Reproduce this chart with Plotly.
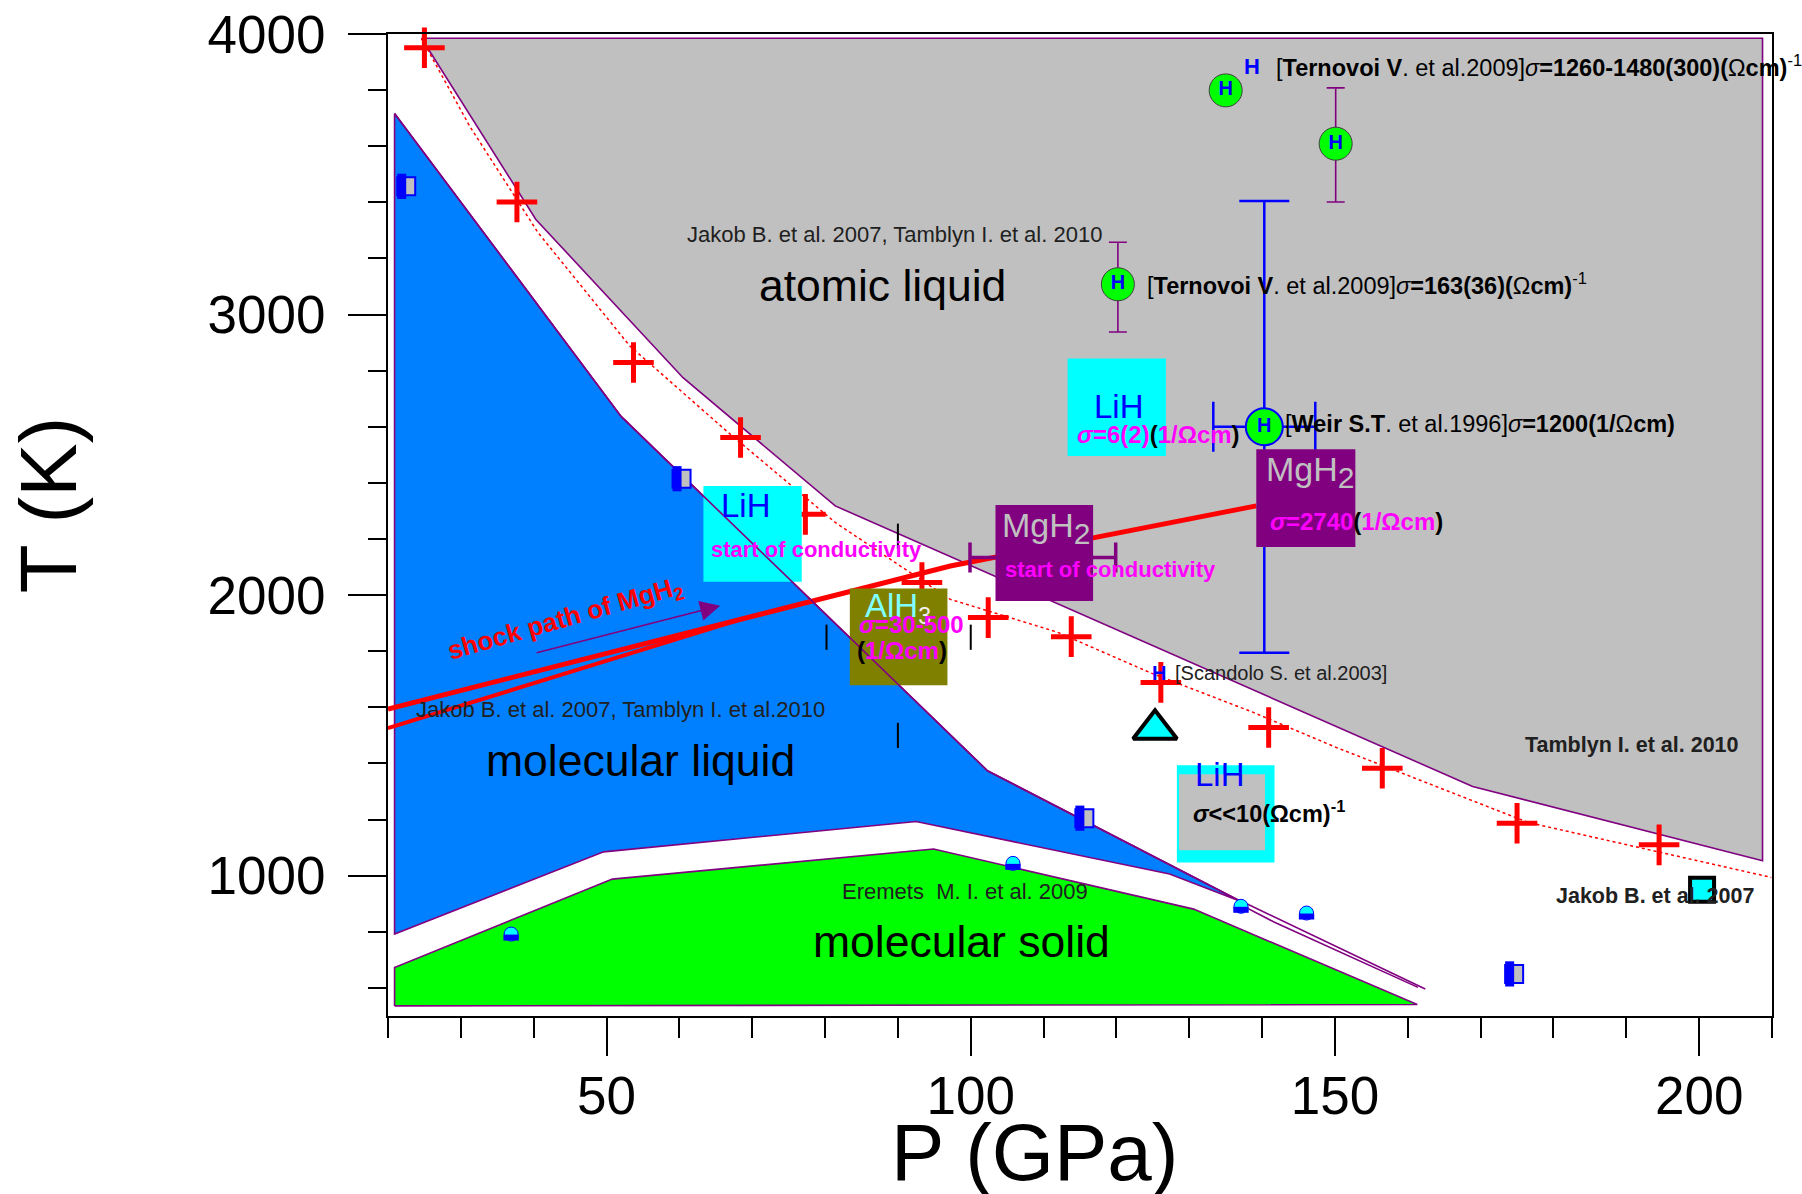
import plotly.graph_objects as go

FONT = "Liberation Sans, Arial, sans-serif"
PURPLE = "#800080"
RED = "#FF0000"
CYAN = "#00FFFF"
MAGENTA = "#FF00FF"
BLUE = "#0000FF"
GRAY = "#C0C0C0"

# ---------------- data (P in GPa, T in K) ----------------
atomic_P = [24.6, 40.3, 60.5, 81.4, 168.9, 208.7, 208.7]
atomic_T = [3985, 3339, 2775, 2318, 1318, 1053, 3985]

molliq_upper_P = [20.9, 52.0, 102.3, 137.1]
molliq_upper_T = [3717, 2637, 1374, 908]
molliq_lower_P = [137.1, 127.3, 92.5, 49.6, 20.9]
molliq_lower_T = [908, 1006, 1193, 1085, 792]

solid_P = [20.9, 20.9, 50.8, 94.9, 130.6, 161.3]
solid_T = [536, 673, 988, 1095, 881, 541]

ext_upper_P = [137.1, 162.4]
ext_upper_T = [910, 596]
ext_lower_P = [137.1, 141.7, 161.4]
ext_lower_T = [896, 834, 602]

fit_P = [24.6, 31.2, 40.6, 53.2, 66.7, 81.4, 97.2, 111.9, 124.6, 138.8, 150.2, 176.5, 209.9]
fit_T = [3984, 3672, 3292, 2888, 2580, 2259, 1985, 1868, 1724, 1582, 1457, 1190, 994]

cross_P = [25.0, 37.7, 53.7, 68.4, 77.3, 93.3, 102.4, 113.8, 126.1, 140.9, 156.5, 175.0, 194.5]
cross_T = [3951, 3401, 2829, 2562, 2288, 2045, 1920, 1852, 1689, 1528, 1383, 1187, 1110]

shock1_P = [20.0, 97.2, 139.2]
shock1_T = [1594, 2104, 2318]
shock2_P = [20.0, 68.0]
shock2_T = [1526, 1910]

tick_P = [80.2, 90.0, 100.0, 90.0]
tick_T = [1850, 2210, 1850, 1500]

halfsq_P = [22.5, 60.3, 115.6, 174.6]
halfsq_T = [3457, 2415, 1205, 650]

halfcirc_P = [36.9, 105.8, 137.1, 146.1]
halfcirc_T = [792, 1044, 891, 867]

tri_P = [125.3]
tri_T = [1522]

jakob_sq_P = [200.4]
jakob_sq_T = [950]

ternovoi_P = [135.0, 150.1, 120.2]
ternovoi_T = [3799, 3609, 3108]
ternovoi_err_plus = [0, 199, 150]
ternovoi_err_minus = [0, 208, 170]

weir_P = [140.3]
weir_T = [2600]
weir_dP = [7.0]
weir_dT = [805]

mgh2_start_P = [109.9]
mgh2_start_T = [2134]
mgh2_start_dP = [10.0]

# label boxes: (P0, P1, T0, T1, colour)
box_lih1 = (63.3, 76.8, 2048, 2389, CYAN)
box_alh3 = (83.4, 96.8, 1679, 2024, "#808000")
box_mgh2a = (103.4, 116.8, 1979, 2321, PURPLE)
box_mgh2b = (139.2, 152.8, 2172, 2520, PURPLE)
box_lih2 = (113.3, 126.8, 2496, 2843, CYAN)
box_lih3_outer = (128.3, 141.7, 1047, 1394, CYAN)
box_lih3_inner = (128.6, 140.4, 1091, 1362, GRAY)

X_RANGE = [20, 210]
Y_RANGE = [500, 4000]

# ---------------- figure ----------------
fig = go.Figure()


def poly(P, T, fill, lw=1.6):
    fig.add_trace(go.Scatter(x=P + [P[0]], y=T + [T[0]], mode="lines", fill="toself",
                             fillcolor=fill, line=dict(color=PURPLE, width=lw),
                             hoverinfo="skip", showlegend=False))


def line(P, T, color=PURPLE, width=1.6, dash="solid"):
    fig.add_trace(go.Scatter(x=P, y=T, mode="lines", line=dict(color=color, width=width, dash=dash),
                             hoverinfo="skip", showlegend=False))


def box(b):
    p0, p1, t0, t1, c = b
    fig.add_trace(go.Scatter(x=[p0, p1, p1, p0, p0], y=[t0, t0, t1, t1, t0], mode="lines",
                             fill="toself", fillcolor=c, line=dict(width=0, color=c),
                             hoverinfo="skip", showlegend=False))


poly(atomic_P, atomic_T, GRAY)
poly(molliq_upper_P + molliq_lower_P[1:], molliq_upper_T + molliq_lower_T[1:], "#0080FF")
poly(solid_P, solid_T, "#00FF00")
line(ext_upper_P, ext_upper_T)
line(ext_lower_P, ext_lower_T)
line(fit_P, fit_T, RED, 1.5, "dot")

fig.add_trace(go.Scatter(x=cross_P, y=cross_T, mode="markers",
                         marker=dict(symbol="cross-thin", size=29, line=dict(color=RED, width=5)),
                         hoverinfo="skip", showlegend=False, cliponaxis=False))

line(shock1_P, shock1_T, RED, 5)
line(shock2_P, shock2_T, RED, 4)

fig.add_trace(go.Scatter(x=tick_P, y=tick_T, mode="markers",
                         marker=dict(symbol="line-ns", size=18, line=dict(color="black", width=2)),
                         hoverinfo="skip", showlegend=False))

# error bars (under the label boxes)
fig.add_trace(go.Scatter(x=weir_P, y=weir_T, mode="markers", marker=dict(size=1, color="rgba(0,0,0,0)"),
                         error_y=dict(type="data", array=weir_dT, color=BLUE, thickness=2.5, width=25),
                         error_x=dict(type="data", array=weir_dP, color=BLUE, thickness=2.5, width=25),
                         hoverinfo="skip", showlegend=False))
fig.add_trace(go.Scatter(x=ternovoi_P, y=ternovoi_T, mode="markers", marker=dict(size=1, color="rgba(0,0,0,0)"),
                         error_y=dict(type="data", symmetric=False, array=ternovoi_err_plus,
                                      arrayminus=ternovoi_err_minus, color=PURPLE, thickness=1.6, width=9),
                         hoverinfo="skip", showlegend=False))
fig.add_trace(go.Scatter(x=mgh2_start_P, y=mgh2_start_T, mode="markers", marker=dict(size=1, color="rgba(0,0,0,0)"),
                         error_x=dict(type="data", array=mgh2_start_dP, color=PURPLE, thickness=3.5, width=15),
                         hoverinfo="skip", showlegend=False))

for b in [box_lih1, box_alh3, box_mgh2a, box_mgh2b, box_lih2, box_lih3_outer, box_lih3_inner]:
    box(b)

# molecular-liquid boundary is drawn over the label boxes
line(molliq_upper_P, molliq_upper_T)

# half-filled squares: grey square with blue border, left half blue
PX_PER_GPA = 1384 / (X_RANGE[1] - X_RANGE[0])
fig.add_trace(go.Scatter(x=halfsq_P, y=halfsq_T, mode="markers",
                         marker=dict(symbol="square", size=18, color=GRAY, line=dict(color=BLUE, width=2)),
                         hoverinfo="skip", showlegend=False, cliponaxis=False))
fig.add_trace(go.Scatter(x=[p - 4.5 / PX_PER_GPA for p in halfsq_P], y=halfsq_T, mode="markers",
                         marker=dict(symbol="line-ns", size=18, line=dict(color=BLUE, width=9)),
                         hoverinfo="skip", showlegend=False, cliponaxis=False))

# half-filled circles: cyan top, blue bottom
PX_PER_K = 982 / (Y_RANGE[1] - Y_RANGE[0])
fig.add_trace(go.Scatter(x=halfcirc_P, y=halfcirc_T, mode="markers",
                         marker=dict(symbol="circle", size=14, color=CYAN, line=dict(color=BLUE, width=1)),
                         hoverinfo="skip", showlegend=False))
fig.add_trace(go.Scatter(x=halfcirc_P, y=[t - 3.5 / PX_PER_K for t in halfcirc_T], mode="markers",
                         marker=dict(symbol="line-ew", size=11, line=dict(color=BLUE, width=6)),
                         hoverinfo="skip", showlegend=False))

fig.add_trace(go.Scatter(x=tri_P, y=tri_T, mode="markers",
                         marker=dict(symbol="triangle-up", size=38, color=CYAN, line=dict(color="black", width=4)),
                         hoverinfo="skip", showlegend=False))

fig.add_trace(go.Scatter(x=ternovoi_P, y=ternovoi_T, mode="markers+text", text=["<b>H</b>"] * 3,
                         textposition="middle center", textfont=dict(color=BLUE, size=20, family=FONT),
                         marker=dict(symbol="circle", size=33, color="#00FF00", line=dict(color="#404040", width=1)),
                         hoverinfo="skip", showlegend=False))
fig.add_trace(go.Scatter(x=weir_P, y=weir_T, mode="markers+text", text=["<b>H</b>"],
                         textposition="middle center", textfont=dict(color=BLUE, size=20, family=FONT),
                         marker=dict(symbol="circle", size=37, color="#00FF00", line=dict(color=BLUE, width=2)),
                         hoverinfo="skip", showlegend=False))


def ann(x, y, text, size, color="black", xanchor="left", yanchor="middle", angle=0):
    fig.add_annotation(x=x, y=y, text=text, showarrow=False, textangle=angle,
                       font=dict(size=size, color=color, family=FONT),
                       xanchor=xanchor, yanchor=yanchor)


def mag(s):
    return "<span style='color:%s'>%s</span>" % (MAGENTA, s)


# region labels and references
ann(60.8, 3286, "Jakob B. et al. 2007, Tamblyn I. et al. 2010", 22, "#202020")
ann(87.9, 3102, "atomic liquid", 44.5, xanchor="center")
ann(54.7, 1409, "molecular liquid", 44.5, xanchor="center")
ann(98.7, 767, "molecular solid", 44.5, xanchor="center")
ann(23.6, 1594, "Jakob B. et al. 2007, Tamblyn I. et al.2010", 22, "#202020")
ann(82.1, 943, "Eremets  M. I. et al. 2009", 22, "#202020")
ann(175.8, 1465, "<b>Tamblyn I. et al. 2010</b>", 21.5, "#202020")
ann(180.1, 929, "<b>Jakob B. et al. 2007</b>", 21.5, "#202020")

# Jakob square marker drawn above its label
fig.add_trace(go.Scatter(x=jakob_sq_P, y=jakob_sq_T, mode="markers",
                         marker=dict(symbol="square", size=24, color=CYAN, line=dict(color="black", width=4)),
                         hoverinfo="skip", showlegend=False))

# hydrogen references
ann(138.6, 3885, "<b>H</b>", 22, BLUE, xanchor="center")
ann(141.7, 3885, "[<b>Ternovoi V</b>. et al.2009]<i>σ</i><b>=1260-1480(300)(</b>Ω<b>cm)</b><sup>-1</sup>", 23.5)
ann(123.9, 3108, "[<b>Ternovoi V</b>. et al.2009]<i>σ</i><b>=163(36)(</b>Ω<b>cm)</b><sup>-1</sup>", 23.5)
ann(142.9, 2609, "[<b>Weir S.T</b>. et al.1996]<i>σ</i><b>=1200(1/</b>Ω<b>cm)</b>", 23.5)
ann(125.8, 1724, "<b>H</b>", 20, BLUE, xanchor="center")
ann(127.8, 1724, "[Scandolo S. et al.2003]", 20, "#202020")

# box texts
ann(69.2, 2318, "LiH", 33, BLUE, xanchor="center")
ann(64.0, 2164, "<b>start of conductivity</b>", 22, MAGENTA)
ann(85.2, 1955, "AlH<sub><span style='color:#F0F0F0'>3</span></sub>", 33, "#80FFFF")
ann(84.4, 1896, "<b>" + mag("<i>σ</i>=30-500") + "</b>", 24)
ann(84.1, 1801, "<b>(" + mag("1/Ωcm") + ")</b>", 24)
ann(104.0, 2238, "MgH<sub><span style='font-size:30px'>2</span></sub>", 34, GRAY)
ann(104.4, 2090, "<b>start of conductivity</b>", 22, MAGENTA)
ann(140.3, 2440, "MgH<sub><span style='font-size:30px'>2</span></sub>", 34, GRAY)
ann(140.8, 2264, "<b>" + mag("<i>σ</i>=2740") + "(" + mag("1/Ωcm") + ")</b>", 24)
ann(116.6, 2674, "LiH", 33, BLUE)
ann(114.3, 2573, "<b>" + mag("<i>σ</i>=6(2)") + "(" + mag("1/Ωcm") + ")</b>", 24)
ann(134.2, 1362, "LiH", 33, BLUE, xanchor="center")
ann(130.2, 1226, "<b><i>σ</i><<10(Ωcm)<sup>-1</sup></b>", 23.5)

# shock path label and arrow
ann(44.3, 1912, "<b>shock path of MgH<sub>2</sub></b>", 26, RED, xanchor="center", angle=-16)
fig.add_annotation(x=65.6, y=1962, ax=40.2, ay=1793, axref="x", ayref="y", xref="x", yref="y",
                   text="", showarrow=True, arrowhead=2, arrowsize=2.5, arrowwidth=1.6, arrowcolor=PURPLE)

# axis titles
fig.add_annotation(x=(48 - 388) / 1384, y=(1015.7 - 505) / 981.7, xref="paper", yref="paper",
                   text="T (K)", textangle=-90, showarrow=False,
                   font=dict(size=80, color="black", family=FONT), xanchor="center", yanchor="middle")
fig.add_annotation(x=(1035 - 388) / 1384, y=(1015.7 - 1152) / 981.7, xref="paper", yref="paper",
                   text="P (GPa)", showarrow=False,
                   font=dict(size=80, color="black", family=FONT), xanchor="center", yanchor="middle")

axis_common = dict(showline=True, linecolor="black", linewidth=2, mirror=True, showgrid=False,
                   zeroline=False, ticks="outside", tickcolor="black", tickwidth=2, ticklen=38,
                   tickfont=dict(size=53, color="black", family=FONT), automargin=False)
fig.update_xaxes(range=X_RANGE, tick0=0, dtick=50, ticklabelstandoff=-6,
                 minor=dict(tick0=0, dtick=10, ticks="outside", ticklen=20, tickcolor="black", tickwidth=2),
                 **axis_common)
fig.update_yaxes(range=Y_RANGE, tick0=0, dtick=1000, ticklabelstandoff=12,
                 minor=dict(tick0=0, dtick=200, ticks="outside", ticklen=18, tickcolor="black", tickwidth=2),
                 **axis_common)

fig.update_layout(width=1802, height=1194, margin=dict(l=388, r=30, t=34, b=178),
                  plot_bgcolor="white", paper_bgcolor="white", showlegend=False,
                  font=dict(family=FONT))

fig.write_html("out.html")
